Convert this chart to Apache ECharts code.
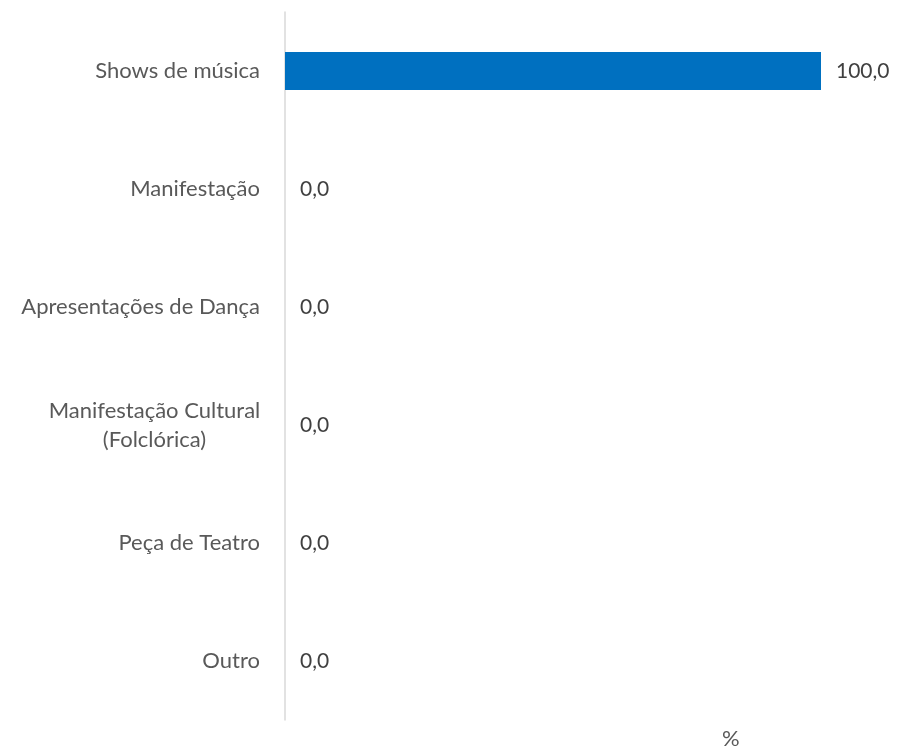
<!DOCTYPE html>
<html>
<head>
<meta charset="utf-8">
<script src="https://cdn.jsdelivr.net/npm/echarts@6/dist/echarts.min.js"></script>
<style>html,body{margin:0;padding:0;background:#fff}#c{width:898px;height:748px}</style>
</head>
<body>
<div id="c"></div>
<script>
const categories = ["Shows de música", "Manifestação", "Apresentações de Dança", "Manifestação Cultural\n(Folclórica)", "Peça de Teatro", "Outro"];
const values = [100.0, 0.0, 0.0, 0.0, 0.0, 0.0];
const unitLabel = "%";

const font = "Lato, 'Open Sans', sans-serif";
const fs = 22;
const chart = echarts.init(document.getElementById('c'));
chart.setOption({
  animation: false,
  backgroundColor: '#fff',
  title: {
    text: unitLabel, left: 717, top: 723,
    textStyle: { fontFamily: font, fontSize: fs, fontWeight: 'normal', color: '#595959' }
  },
  grid: { left: 285, right: 77, top: 12, bottom: 28, containLabel: false },
  xAxis: { type: 'value', min: 0, max: 100, show: false },
  yAxis: {
    type: 'category', data: categories, inverse: true,
    axisLine: { show: true, lineStyle: { color: '#d9d9d9', width: 1.5 } },
    axisTick: { show: false },
    axisLabel: {
      margin: 25, fontFamily: font, fontSize: fs, color: '#595959', lineHeight: 29,
      formatter: v => {
        const lines = v.split('\n');
        if (lines.length === 1) return v;
        return lines.map(l => '{c|' + l + '}').join('\n');
      },
      rich: { c: { width: 211, align: 'center', fontFamily: font, fontSize: fs, color: '#595959', lineHeight: 29 } }
    }
  },
  series: [{
    type: 'bar', data: values, barWidth: 38,
    itemStyle: { color: '#0070c0' },
    label: {
      show: true, position: 'right', distance: 15,
      fontFamily: font, fontSize: 21, color: '#404040',
      formatter: p => p.value.toFixed(1).replace('.', ',')
    }
  }]
});
</script>
</body>
</html>
